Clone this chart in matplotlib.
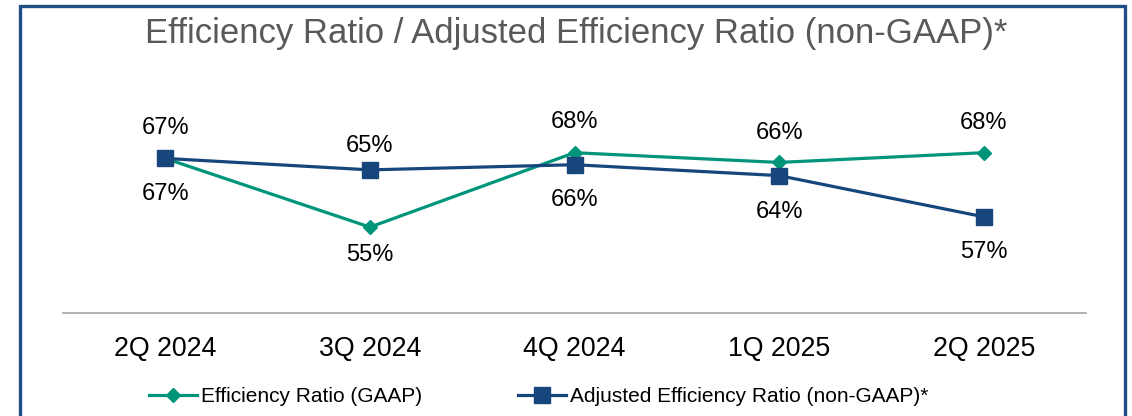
import matplotlib
matplotlib.use("Agg")
import matplotlib.pyplot as plt
from matplotlib.patches import Rectangle

plt.rcParams['font.family'] = ['Liberation Sans', 'DejaVu Sans']

categories = ["2Q 2024", "3Q 2024", "4Q 2024", "1Q 2025", "2Q 2025"]
gaap = [67.0, 55.0, 68.0, 66.3, 68.0]
adjusted = [67.0, 65.0, 65.9, 64.0, 56.8]
# label offsets in pixels (positive = above marker)
gaap_label_off = [-33.5, -26, 32.5, 31.5, 32]
adj_label_off = [32, 25.5, -33.5, -34.5, -33.5]

green = "#00957A"
navy = "#17467D"
border = "#1F4E85"

fig = plt.figure(figsize=(11.32, 4.16), dpi=100)
ax = fig.add_axes([63/1132, 1-313/416, (1086-63)/1132, (313-84)/416])

x = list(range(len(categories)))
ax.plot(x, gaap, color=green, lw=2.3, marker='D', ms=7.2, label="Efficiency Ratio (GAAP)", zorder=3)
ax.plot(x, adjusted, color=navy, lw=2.3, marker='s', ms=11, label="Adjusted Efficiency Ratio (non-GAAP)*", zorder=4)

def annotate(vals, offs):
    for xi, v, o in zip(x, vals, offs):
        off_px = o - 2
        ax.annotate(f"{v:.0f}%", (xi, v), xytext=(0, off_px * 0.72), textcoords='offset points',
                    ha='center', va='center', fontsize=17, color='black')

annotate(gaap, gaap_label_off)
annotate(adjusted, adj_label_off)

ax.set_xlim(-0.5, len(categories) - 0.5)
ax.set_ylim(40, 80)
ax.set_xticks(x)
ax.set_xticklabels(categories, fontsize=19.3)
ax.tick_params(axis='x', length=0, pad=16.5)
ax.set_yticks([])
for s in ['top', 'right', 'left']:
    ax.spines[s].set_visible(False)
ax.spines['bottom'].set_color('#A6A6A6')
ax.spines['bottom'].set_linewidth(1.2)
ax.patch.set_alpha(0)

fig.text(576/1132, 1-34/416, "Efficiency Ratio / Adjusted Efficiency Ratio (non-GAAP)*",
         ha='center', va='center', fontsize=25, color='#595959')

leg = fig.legend(loc='center', bbox_to_anchor=(539/1132, 1-397/416), ncol=2, frameon=False,
                 fontsize=15, handlelength=2.3, handletextpad=0.2, columnspacing=4.6,
                 borderaxespad=0, borderpad=0)

fig.patches.append(Rectangle((20/1132, -0.1), (1125-20)/1132, 1.1 - 6/416,
                             transform=fig.transFigure, fill=False, edgecolor=border, lw=2.4))

fig.savefig("out.png", dpi=100)
